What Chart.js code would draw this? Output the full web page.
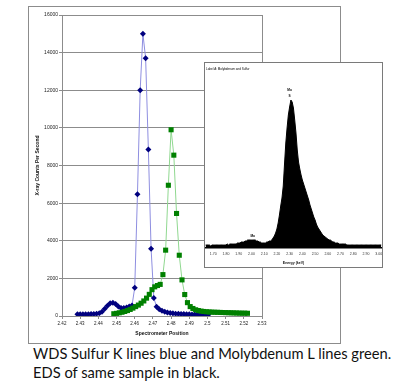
<!DOCTYPE html>
<html>
<head>
<meta charset="utf-8">
<script src="https://cdn.jsdelivr.net/npm/chart.js@4.4.0/dist/chart.umd.min.js"></script>
<style>
  html, body { margin: 0; padding: 0; background: #fff; }
  body { width: 398px; height: 390px; position: relative; overflow: hidden; }
  #mainFrame { position: absolute; left: 28px; top: 6px; width: 313px; height: 338px; box-sizing: border-box; border: 1px solid #8c8c8c; }
  #mainChart { position: absolute; left: 28px; top: 6px; }
  #insetBox { position: absolute; left: 204px; top: 62px; width: 179px; height: 206px; box-sizing: border-box; border: 1px solid #7a7a7a; background: #fff; }
  #insetChart { position: absolute; left: 0; top: 0; }
  #caption { position: absolute; left: 33px; top: 344px; font-family: Lato, sans-serif; font-size: 14.7px; line-height: 19px; color: #111; white-space: nowrap; }
</style>
</head>
<body>
<div id="mainFrame"></div>
<canvas id="mainChart" width="312" height="337"></canvas>
<div id="insetBox"><canvas id="insetChart" width="177" height="204"></canvas></div>
<div id="caption">WDS Sulfur K lines blue and Molybdenum L lines green.<br>EDS of same sample in black.</div>

<script>
'use strict';

// WDS scans (spectrometer position, counts per second)
let wdsStep = 0.0015;
let sulfurStart = 2.4285;
let sulfurCounts = [90, 90, 90, 95, 95, 100, 110, 120, 150, 230,
  380, 550, 680, 710, 640, 500, 430, 420, 450, 500,
  560, 1500, 6470, 12000, 15000, 13700, 8850, 3580, 960,
  495, 356, 280, 230, 190, 160, 140, 125, 115, 105, 100,
  95, 90, 85, 80, 80, 75, 75, 70, 70];
let molyStart = 2.4485;
let molyCounts = [120, 140, 170, 200, 240, 290, 350, 420, 500, 580,
  680, 800, 950, 1150, 1400, 1550, 1620, 1680, 2200, 3500,
  6950, 9900, 8550, 5450, 3230, 1920, 1140, 710, 500, 400,
  330, 290, 260, 240, 225, 215, 205, 200, 195, 190,
  185, 180, 175, 170, 165, 160, 155, 150, 150, 145];
let xTickValues = [2.42, 2.43, 2.44, 2.45, 2.46, 2.47, 2.48, 2.49, 2.5, 2.51, 2.52, 2.53];
let yTickValues = [0, 2000, 4000, 6000, 8000, 10000, 12000, 14000, 16000];

// EDS spectrum (energy keV, counts)
let edsStart = 1.64;
let edsStep = 0.01;
let edsCounts = [3, 3, 3, 3, 2, 3, 3, 3, 3, 3,
  3, 3, 3, 3, 3, 3, 3, 4, 3, 4,
  4, 4, 4, 4, 4, 5, 5, 5, 6, 6,
  6, 7, 7, 8, 8, 8, 8, 8, 8, 8,
  7, 7, 6, 6, 5, 5, 5, 5, 6, 6,
  7, 7, 8, 10, 12, 15, 19, 25, 33, 42,
  50, 62, 84, 105, 120, 133, 141, 148, 146, 140,
  128, 115, 98, 86, 79, 73, 68, 64, 60, 56,
  52, 48, 43, 39, 35, 31, 28, 24, 21, 19,
  17, 15, 13, 12, 11, 10, 9, 8, 8, 7,
  6, 6, 5, 5, 5, 4, 4, 4, 4, 4,
  4, 3, 3, 3, 3, 3, 3, 3, 3, 3,
  3, 3, 3, 3, 3, 3, 3, 3, 3, 3,
  3, 3, 3, 3, 3, 3, 3, 3, 3];
let edsTickValues = [1.7, 1.8, 1.9, 2.0, 2.1, 2.2, 2.3, 2.4, 2.5, 2.6, 2.7, 2.8, 2.9, 3.0];
let edsPeakEnergies = [2.30, 2.01];
let edsPeakNames = [['Mo', 'S'], ['Mo']];
let edsTitle = 'Label A: Molybdenum and Sulfur';

function toPoints(start, step, counts) {
  let pts = [];
  for (let i = 0; i < counts.length; i++) {
    pts.push({ x: +(start + i * step).toFixed(4), y: counts[i] });
  }
  return pts;
}

let gray = '#8c8c8c';
let font = 'Liberation Sans, Arial, sans-serif';

// box round the plot area (Excel style)
let plotFrame = {
  id: 'plotFrame',
  afterDraw(chart) {
    let a = chart.chartArea;
    let ctx = chart.ctx;
    ctx.save();
    ctx.strokeStyle = gray;
    ctx.lineWidth = 1;
    ctx.strokeRect(Math.round(a.left) + 0.5, Math.round(a.top) + 0.5, Math.round(a.right - a.left), Math.round(a.bottom - a.top));
    ctx.restore();
  }
};

new Chart(document.getElementById('mainChart'), {
  type: 'line',
  data: {
    datasets: [
      {
        label: 'S K',
        data: toPoints(sulfurStart, wdsStep, sulfurCounts),
        borderColor: '#8e8ee0',
        borderWidth: 1,
        pointStyle: 'rectRot',
        pointRadius: 3,
        pointBackgroundColor: '#00007f',
        pointBorderColor: '#00007f',
        pointBorderWidth: 0,
        tension: 0,
        order: 2
      },
      {
        label: 'Mo L',
        data: toPoints(molyStart, wdsStep, molyCounts),
        borderColor: '#90d890',
        borderWidth: 1,
        pointStyle: 'rect',
        pointRadius: 3.6,
        pointBackgroundColor: '#008000',
        pointBorderColor: '#008000',
        pointBorderWidth: 0,
        tension: 0,
        order: 1
      }
    ]
  },
  options: {
    responsive: false,
    animation: false,
    devicePixelRatio: 1,
    layout: { padding: { top: 9, right: 78, bottom: 0, left: 0 } },
    plugins: { legend: { display: false }, tooltip: { enabled: false } },
    scales: {
      x: {
        type: 'linear',
        min: 2.42,
        max: 2.53,
        afterBuildTicks: (s) => { s.ticks = xTickValues.map(v => ({ value: v })); },
        afterFit: (s) => { s.height = 27; },
        ticks: {
          autoSkip: false,
          maxRotation: 0,
          padding: 2,
          color: '#222',
          font: { family: font, size: 4.5 },
          callback: (v) => String(Number(v.toFixed(2)))
        },
        grid: { display: true, drawOnChartArea: false, drawTicks: true, tickLength: 3, color: gray },
        border: { display: true, color: gray },
        title: {
          display: true,
          text: 'Spectrometer Position',
          color: '#111',
          font: { family: font, size: 5, weight: 'bold' },
          padding: { top: 0, bottom: 6.5 }
        }
      },
      y: {
        min: 0,
        max: 16000,
        afterBuildTicks: (s) => { s.ticks = yTickValues.map(v => ({ value: v })); },
        afterFit: (s) => { s.width = 34; },
        ticks: {
          padding: 1,
          color: '#222',
          font: { family: font, size: 5 },
          callback: (v) => String(v)
        },
        grid: { color: gray, lineWidth: 1, drawTicks: true, tickLength: 3 },
        border: { display: true, color: gray },
        title: {
          display: true,
          text: 'X-ray Counts Per Second',
          color: '#111',
          font: { family: font, size: 5, weight: 'bold' },
          padding: { top: 7, bottom: 0 }
        }
      }
    }
  },
  plugins: [plotFrame]
});

// inset: title and peak labels
let edsText = {
  id: 'edsText',
  afterDraw(chart) {
    let ctx = chart.ctx;
    let xs = chart.scales.x;
    let ys = chart.scales.y;
    ctx.save();
    ctx.fillStyle = '#000';
    ctx.textBaseline = 'middle';
    ctx.textAlign = 'left';
    ctx.font = '3px ' + font;
    ctx.fillText(edsTitle, 1, 6);
    ctx.textAlign = 'center';
    ctx.font = 'bold 3.2px ' + font;
    for (let i = 0; i < edsPeakEnergies.length; i++) {
      let e = edsPeakEnergies[i];
      let idx = Math.round((e - edsStart) / edsStep);
      let top = 0;
      for (let k = idx - 2; k <= idx + 2; k++) top = Math.max(top, edsCounts[k]);
      let px = xs.getPixelForValue(e);
      let py = ys.getPixelForValue(top) - 4;
      let names = edsPeakNames[i];
      for (let j = names.length - 1; j >= 0; j--) {
        ctx.fillText(names[j], px, py);
        py -= 6;
      }
    }
    ctx.restore();
  }
};

new Chart(document.getElementById('insetChart'), {
  type: 'line',
  data: {
    datasets: [{
      data: toPoints(edsStart, edsStep, edsCounts),
      borderColor: '#000',
      borderWidth: 1,
      backgroundColor: '#000',
      fill: 'origin',
      pointRadius: 0,
      tension: 0
    }]
  },
  options: {
    responsive: false,
    animation: false,
    devicePixelRatio: 1,
    layout: { padding: { top: 12, right: 0, bottom: 0, left: 0 } },
    plugins: { legend: { display: false }, tooltip: { enabled: false } },
    scales: {
      x: {
        type: 'linear',
        min: 1.635,
        max: 3.026,
        afterBuildTicks: (s) => { s.ticks = edsTickValues.map(v => ({ value: v })); },
        afterFit: (s) => { s.height = 19; s.paddingLeft = 0; s.paddingRight = 0; },
        ticks: {
          autoSkip: false,
          maxRotation: 0,
          padding: 4.4,
          color: '#333',
          font: { family: font, size: 3.5 },
          callback: (v) => v.toFixed(2)
        },
        grid: { display: false, drawTicks: false },
        border: { display: true, color: '#000', width: 1.5 },
        title: {
          display: true,
          text: 'Energy (keV)',
          color: '#111',
          font: { family: font, size: 3.5, weight: 'bold' },
          padding: { top: 0, bottom: 2.2 }
        }
      },
      y: {
        display: false,
        min: 0,
        max: 173
      }
    }
  },
  plugins: [edsText]
});
</script>
</body>
</html>
